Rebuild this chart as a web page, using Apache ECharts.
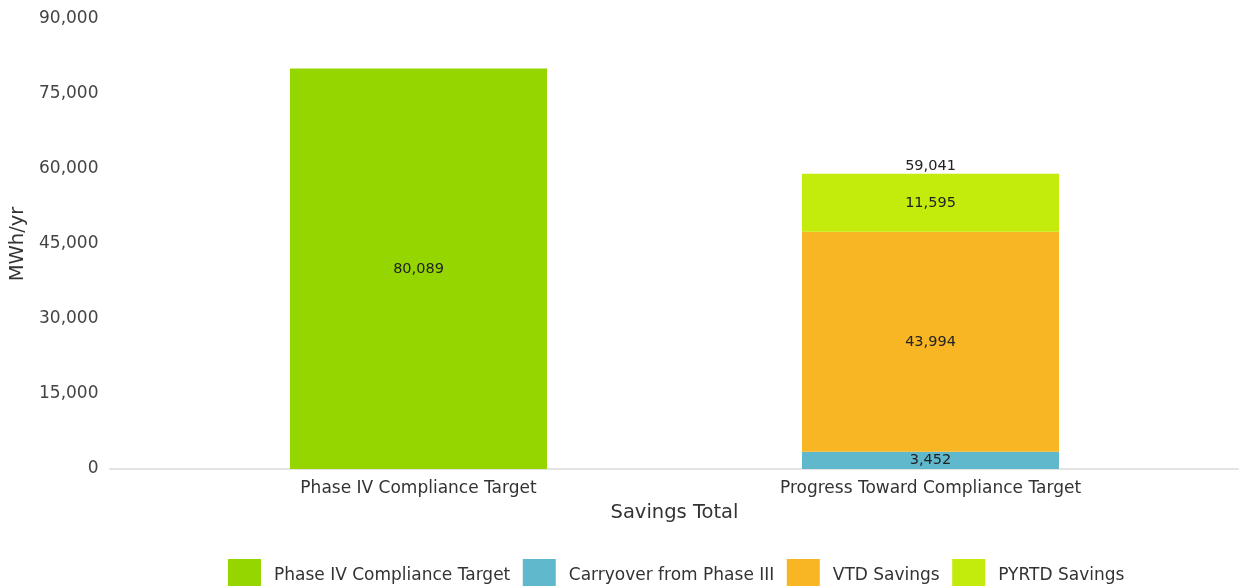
<!DOCTYPE html>
<html>
<head>
<meta charset="utf-8">
<script src="https://cdn.jsdelivr.net/npm/echarts@6/dist/echarts.min.js"></script>
<style>
  html, body { margin: 0; padding: 0; background: #fff; }
  #chart { width: 1239px; height: 586px; }
</style>
</head>
<body>
<div id="chart"></div>
<script>
const categories = ['Phase IV Compliance Target', 'Progress Toward Compliance Target'];
const seriesNames = ['Phase IV Compliance Target', 'Carryover from Phase III', 'VTD Savings', 'PYRTD Savings'];
const targetVals = [80089, null];
const carryoverVals = [null, 3452];
const vtdVals = [null, 43994];
const pyrtdVals = [null, 11595];
const colors = ['#95d600', '#5fb8cc', '#f8b524', '#c3eb0c'];

const fontFam = '"DejaVu Sans", sans-serif';
const fmt = v => v == null ? '' : Number(v).toLocaleString('en-US');

// stack totals for the label above each bar
const totals = categories.map((c, i) => {
  const parts = [carryoverVals[i], vtdVals[i], pyrtdVals[i]];
  if (parts.every(p => p == null)) return null;
  return parts.reduce((s, p) => s + (p || 0), 0);
});

const chart = echarts.init(document.getElementById('chart'), null, { renderer: 'canvas' });

const segLabel = {
  show: true,
  position: 'inside',
  color: '#222',
  fontSize: 14.5,
  fontFamily: fontFam,
  formatter: p => fmt(p.value)
};

function barSeries(name, data, color) {
  return {
    name: name,
    type: 'bar',
    stack: 'total',
    xAxisIndex: 1,
    yAxisIndex: 1,
    barWidth: 257,
    data: data,
    itemStyle: { color: color },
    label: segLabel
  };
}

const option = {
  backgroundColor: '#fff',
  animation: false,
  grid: [
    { left: 110, right: 1, top: 19, bottom: 117 },
    { left: 162.5, right: 52.5, top: 19, bottom: 117 }
  ],
  legend: {
    data: seriesNames,
    left: 223,
    top: 554,
    itemWidth: 33,
    itemHeight: 34,
    itemGap: 12.5,
    icon: 'rect',
    textStyle: { color: '#333', fontSize: 17, fontFamily: fontFam, padding: [0, 0, 0, 8] }
  },
  xAxis: [
    {
      gridIndex: 0,
      type: 'category',
      data: categories,
      axisLine: { show: true, lineStyle: { color: '#e3e3e3', width: 2 } },
      axisTick: { show: false },
      axisLabel: { show: false },
      splitLine: { show: false }
    },
    {
      gridIndex: 1,
      type: 'category',
      data: categories,
      axisLine: { show: false },
      axisTick: { show: false },
      axisLabel: { color: '#333', fontSize: 17, fontFamily: fontFam, margin: 11 },
      name: 'Savings Total',
      nameLocation: 'middle',
      nameGap: 34,
      nameTextStyle: { color: '#333', fontSize: 19.5, fontFamily: fontFam }
    }
  ],
  yAxis: [
    {
      gridIndex: 0,
      type: 'value',
      min: 0, max: 90000, interval: 15000,
      show: false
    },
    {
      gridIndex: 1,
      type: 'value',
      min: 0, max: 90000, interval: 15000,
      axisLine: { show: false },
      axisTick: { show: false },
      splitLine: { show: false },
      axisLabel: { color: '#444', fontSize: 17, fontFamily: fontFam, margin: 64, formatter: v => fmt(v) },
      name: 'MWh/yr',
      nameLocation: 'middle',
      nameGap: 122,
      nameTextStyle: { color: '#333', fontSize: 19.5, fontFamily: fontFam }
    }
  ],
  series: [
    barSeries(seriesNames[0], targetVals, colors[0]),
    barSeries(seriesNames[1], carryoverVals, colors[1]),
    barSeries(seriesNames[2], vtdVals, colors[2]),
    barSeries(seriesNames[3], pyrtdVals, colors[3]),
    {
      name: 'Total',
      type: 'bar',
      stack: 'total',
      xAxisIndex: 1,
      yAxisIndex: 1,
      barWidth: 257,
      data: totals.map(t => t == null ? null : 0),
      itemStyle: { color: 'transparent' },
      label: {
        show: true,
        position: 'top',
        distance: 0,
        color: '#222',
        fontSize: 14.5,
        fontFamily: fontFam,
        formatter: p => fmt(totals[p.dataIndex])
      }
    }
  ]
};

chart.setOption(option);
</script>
</body>
</html>
